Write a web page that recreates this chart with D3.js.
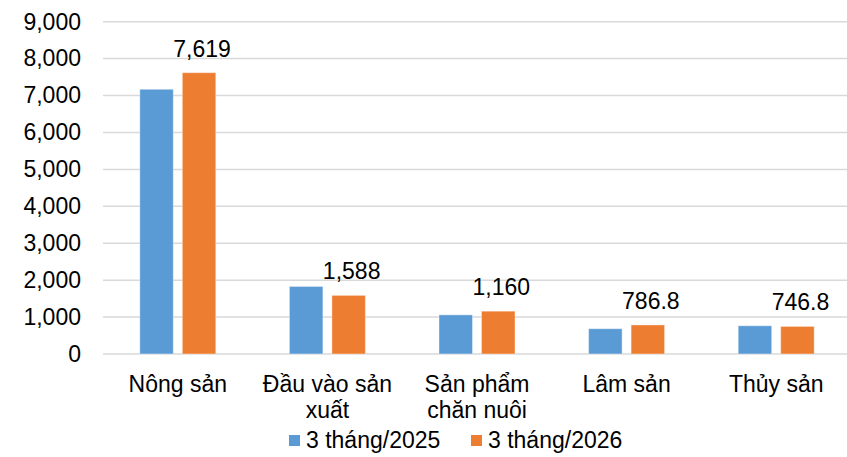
<!DOCTYPE html>
<html>
<head>
<meta charset="utf-8">
<script src="https://cdn.jsdelivr.net/npm/d3@7/dist/d3.min.js"></script>
<style>
  body { margin: 0; background: #fff; }
  text { font-family: "Liberation Sans", Arial, sans-serif; fill: #000; }
</style>
</head>
<body>
<div id="chart"></div>
<script>
var categories = ["Nông sản", "Đầu vào sản xuất", "Sản phẩm chăn nuôi", "Lâm sản", "Thủy sản"];
var seriesNames = ["3 tháng/2025", "3 tháng/2026"];
var values2025 = [7170, 1830, 1060, 685, 765];
var values2026 = [7619, 1588, 1160, 786.8, 746.8];
var labels2026 = ["7,619", "1,588", "1,160", "786.8", "746.8"];
var yTicks = [0, 1000, 2000, 3000, 4000, 5000, 6000, 7000, 8000, 9000];

var colors = ["#5b9bd5", "#ed7d31"];
var W = 847, H = 457;
var fs = "23px";

var svg = d3.select("#chart").append("svg")
    .attr("width", W)
    .attr("height", H);

var x0 = d3.scaleBand()
    .domain(categories)
    .range([103, 851]);

var x1 = d3.scaleBand()
    .domain(seriesNames)
    .range([0, x0.bandwidth()])
    .paddingInner(0.212)
    .paddingOuter(0.866);

var y = d3.scaleLinear()
    .domain([0, 9000])
    .range([354, 21.7]);

// gridlines
svg.append("g")
    .selectAll("line")
    .data(yTicks)
    .enter().append("line")
    .attr("x1", 103)
    .attr("x2", W)
    .attr("y1", function (d) { return y(d); })
    .attr("y2", function (d) { return y(d); })
    .attr("stroke", "#d9d9d9")
    .attr("stroke-width", 1.5);

// y axis labels
var yAxis = svg.append("g")
    .attr("transform", "translate(103,0)")
    .call(d3.axisLeft(y).tickValues(yTicks).tickFormat(d3.format(",")).tickSize(0).tickPadding(22));
yAxis.select(".domain").remove();
yAxis.selectAll("text")
    .style("font-size", fs)
    .style("font-family", "'Liberation Sans', Arial, sans-serif");

// bars
var rows = categories.map(function (c, i) {
    return { cat: c, vals: [values2025[i], values2026[i]], label: labels2026[i] };
});

var groups = svg.append("g")
    .selectAll("g")
    .data(rows)
    .enter().append("g")
    .attr("transform", function (d) { return "translate(" + x0(d.cat) + ",0)"; });

groups.selectAll("rect")
    .data(function (d) { return d.vals.map(function (v, j) { return { s: seriesNames[j], v: v, j: j }; }); })
    .enter().append("rect")
    .attr("x", function (d) { return x1(d.s); })
    .attr("width", x1.bandwidth())
    .attr("y", function (d) { return y(d.v); })
    .attr("height", function (d) { return y(0) - y(d.v); })
    .attr("fill", function (d) { return colors[d.j]; })
    .attr("stroke", "#fff")
    .attr("stroke-opacity", 0.4)
    .attr("stroke-width", 1);

// data labels on 2026 series
groups.append("text")
    .attr("x", function (d) { return x1(seriesNames[1]) + x1.bandwidth() / 2 + 3; })
    .attr("y", function (d) { return y(d.vals[1]) - 16; })
    .attr("text-anchor", "middle")
    .style("font-size", fs)
    .text(function (d) { return d.label; });

// category labels
var xAxis = svg.append("g")
    .attr("transform", "translate(0,354)")
    .call(d3.axisBottom(x0).tickSize(0).tickPadding(0));
xAxis.select(".domain").remove();
xAxis.selectAll("text")
    .style("font-size", fs)
    .style("font-family", "'Liberation Sans', Arial, sans-serif")
    .call(wrap, 140);

function wrap(texts, width) {
    texts.each(function () {
        var text = d3.select(this),
            words = text.text().split(/\s+/),
            line = [],
            lineNo = 0,
            tspan = text.text(null).append("tspan").attr("x", 0).attr("y", 38);
        words.forEach(function (w) {
            line.push(w);
            tspan.text(line.join(" "));
            if (tspan.node().getComputedTextLength() > width && line.length > 1) {
                line.pop();
                tspan.text(line.join(" "));
                line = [w];
                lineNo++;
                tspan = text.append("tspan").attr("x", 0).attr("y", 38 + lineNo * 26).text(w);
            }
        });
        text.attr("dy", null);
    });
}

// legend
var legend = svg.append("g");
var legendX = [289, 471];
seriesNames.forEach(function (s, i) {
    legend.append("rect")
        .attr("x", legendX[i])
        .attr("y", 435)
        .attr("width", 11)
        .attr("height", 11)
        .attr("fill", colors[i]);
    legend.append("text")
        .attr("x", legendX[i] + 17)
        .attr("y", 448)
        .style("font-size", fs)
        .text(s);
});
</script>
</body>
</html>
